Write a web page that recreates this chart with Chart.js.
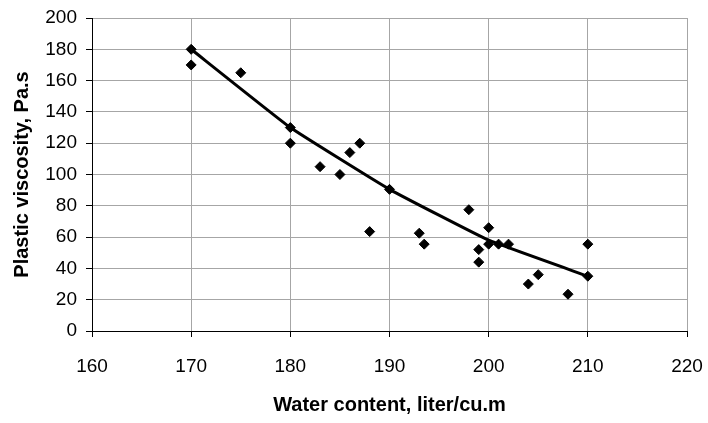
<!DOCTYPE html>
<html>
<head>
<meta charset="utf-8">
<script src="https://cdn.jsdelivr.net/npm/chart.js@4"></script>
<style>
  html, body { margin: 0; padding: 0; background: #fff; }
  #wrap { width: 708px; height: 423px; }
</style>
</head>
<body>
<div id="wrap"><canvas id="chart" width="708" height="423"></canvas></div>
<script>
// measured points
const waterContent = [170, 170, 175, 180, 180, 183, 185, 186, 187, 188, 190,
  193, 193.5, 198, 199, 199, 200, 200, 201, 202, 204, 205, 208, 210, 210];
const viscosity = [180, 170, 165, 130, 120, 105, 100, 114, 120, 63.5, 90.5,
  62.5, 55.5, 77.5, 52, 44, 66, 55.5, 55.5, 55.5, 30, 36, 23.5, 55.5, 35];

// trend line
const trendX = [170, 180, 190, 200, 210];
const trendY = [180, 130, 90.5, 58, 35];

const xTitle = 'Water content, liter/cu.m';
const yTitle = 'Plastic viscosity, Pa.s';

const ctx = document.getElementById('chart').getContext('2d');

new Chart(ctx, {
  type: 'scatter',
  data: {
    datasets: [
      {
        label: 'Trend',
        type: 'line',
        data: trendX.map((x, i) => ({ x: x, y: trendY[i] })),
        borderColor: '#000',
        borderWidth: 3,
        pointRadius: 0,
        fill: false,
        tension: 0.1,
        order: 2,
      },
      {
        label: 'Measured',
        data: waterContent.map((x, i) => ({ x: x, y: viscosity[i] })),
        pointStyle: 'rectRot',
        pointRadius: 5,
        backgroundColor: '#000',
        borderColor: '#000',
        borderWidth: 1,
        order: 1,
      },
    ],
  },
  options: {
    responsive: false,
    animation: false,
    layout: { padding: { top: 18, right: 21, left: 0, bottom: 0 } },
    plugins: {
      legend: { display: false },
      tooltip: { enabled: false },
    },
    scales: {
      x: {
        type: 'linear',
        min: 160,
        max: 220,
        ticks: {
          stepSize: 10,
          color: '#000',
          padding: 18,
          font: { family: 'Liberation Sans, Arial', size: 19 },
        },
        grid: { color: '#a6a6a6', tickColor: '#000', tickLength: 6 },
        border: { color: '#000', width: 1 },
        title: {
          display: true,
          text: xTitle,
          color: '#000',
          font: { family: 'Liberation Sans, Arial', size: 20, weight: 'bold' },
          padding: { top: 0, bottom: 6 },
        },
        afterFit: (scale) => {
          scale.height = 92;
          scale.paddingLeft = 0;
          scale.paddingRight = 0;
        },
      },
      y: {
        min: 0,
        max: 200,
        ticks: {
          stepSize: 20,
          color: '#000',
          padding: 9,
          font: { family: 'Liberation Sans, Arial', size: 19 },
        },
        grid: { color: '#a6a6a6', tickColor: '#000', tickLength: 6 },
        border: { color: '#000', width: 1 },
        title: {
          display: true,
          text: yTitle,
          color: '#000',
          font: { family: 'Liberation Sans, Arial', size: 20, weight: 'bold' },
          padding: { top: 10, bottom: 0 },
        },
        afterFit: (scale) => {
          scale.width = 92;
          scale.paddingTop = 0;
          scale.paddingBottom = 0;
        },
      },
    },
  },
});
</script>
</body>
</html>
